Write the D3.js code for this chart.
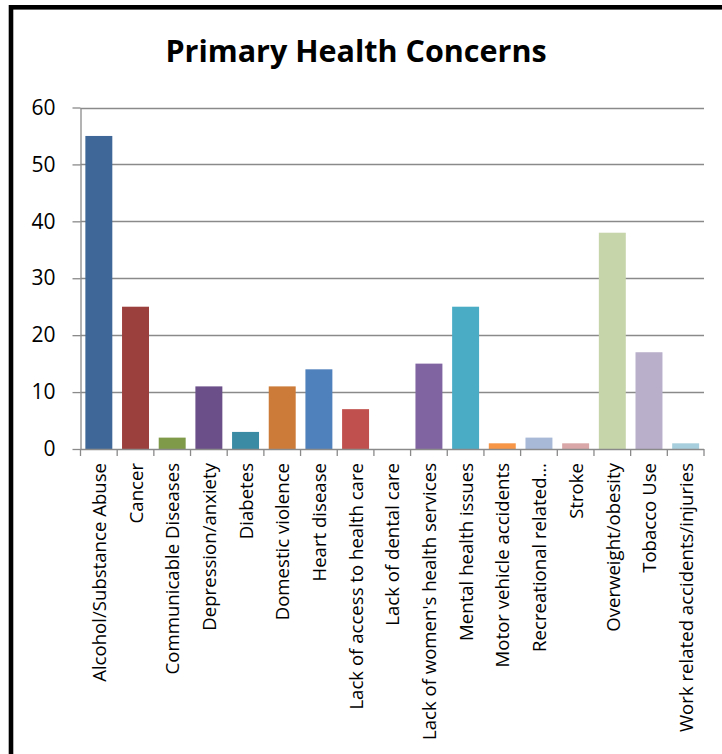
<!DOCTYPE html>
<html>
<head>
<meta charset="utf-8">
<script src="https://cdn.jsdelivr.net/npm/d3@7"></script>
<style>
  html, body { margin: 0; padding: 0; background: #fff; }
  svg { display: block; }
</style>
</head>
<body>
<svg id="chart" width="722" height="754"></svg>
<script>
const categories = [
  "Alcohol/Substance Abuse",
  "Cancer",
  "Communicable Diseases",
  "Depression/anxiety",
  "Diabetes",
  "Domestic violence",
  "Heart disease",
  "Lack of access to health care",
  "Lack of dental care",
  "Lack of women's health services",
  "Mental health issues",
  "Motor vehicle accidents",
  "Recreational related…",
  "Stroke",
  "Overweight/obesity",
  "Tobacco Use",
  "Work related accidents/injuries"
];
const values = [55, 25, 2, 11, 3, 11, 14, 7, 0, 15, 25, 1, 2, 1, 38, 17, 1];
const barColors = [
  "#3F6899", "#9C403E", "#7F9A48", "#6A4F88", "#3A8BA3", "#CD7B38",
  "#4F81BD", "#C0504D", "#9BBB59", "#8064A2", "#4BACC6", "#F79646",
  "#A8B9D8", "#D9A7A7", "#C6D6AA", "#B9AFCB", "#A7CEDC"
];
const yTicks = [0, 10, 20, 30, 40, 50, 60];
const title = "Primary Health Concerns";

const svg = d3.select("#chart");
const font = "'Open Sans', 'Noto Sans', sans-serif";
const gridColor = "#8A8A8A";

const plot = { left: 80.5, right: 704, top: 107.5, bottom: 449 };

const x = d3.scaleBand()
  .domain(categories)
  .range([plot.left, plot.right])
  .paddingInner(0.265)
  .paddingOuter(0.1325);

const y = d3.scaleLinear()
  .domain([0, 60])
  .range([plot.bottom, plot.top]);

// outer frame
svg.append("rect")
  .attr("x", 11).attr("y", 7.3)
  .attr("width", 900).attr("height", 900)
  .attr("fill", "none")
  .attr("stroke", "#000")
  .attr("stroke-width", 4.6);

// title
svg.append("text")
  .attr("x", 356).attr("y", 61.5)
  .attr("text-anchor", "middle")
  .attr("font-family", font)
  .attr("font-weight", "bold")
  .attr("font-size", 30.5)
  .attr("fill", "#000")
  .text(title);

// horizontal gridlines
svg.append("g")
  .selectAll("line")
  .data(yTicks.filter(d => d !== 0))
  .join("line")
  .attr("x1", plot.left).attr("x2", plot.right)
  .attr("y1", d => Math.round(y(d)) + 0.5)
  .attr("y2", d => Math.round(y(d)) + 0.5)
  .attr("stroke", gridColor)
  .attr("stroke-width", 1.3);

// bars
svg.append("g")
  .selectAll("rect")
  .data(categories.map((c, i) => ({ c, v: values[i], color: barColors[i] })))
  .join("rect")
  .attr("x", d => x(d.c))
  .attr("width", x.bandwidth())
  .attr("y", d => y(d.v))
  .attr("height", d => y(0) - y(d.v))
  .attr("fill", d => d.color);

// y axis
const yAxis = svg.append("g")
  .attr("transform", `translate(${plot.left},0)`)
  .call(d3.axisLeft(y).tickValues(yTicks).tickSize(8).tickPadding(17).tickSizeOuter(0));
yAxis.select(".domain").attr("stroke", gridColor).attr("stroke-width", 1.3);
yAxis.selectAll(".tick line").attr("stroke", gridColor).attr("stroke-width", 1.3);
yAxis.selectAll(".tick text")
  .attr("font-family", font)
  .attr("font-size", 21)
  .attr("fill", "#000");

// x axis: ticks at category boundaries
const boundaries = categories.map(c => x(c) - x.step() * x.paddingInner() / 2)
  .concat([plot.right]);
svg.append("line")
  .attr("x1", plot.left).attr("x2", plot.right)
  .attr("y1", plot.bottom + 0.5).attr("y2", plot.bottom + 0.5)
  .attr("stroke", gridColor).attr("stroke-width", 1.5);
svg.append("g")
  .selectAll("line")
  .data(boundaries)
  .join("line")
  .attr("x1", d => d).attr("x2", d => d)
  .attr("y1", plot.bottom).attr("y2", plot.bottom + 7)
  .attr("stroke", gridColor).attr("stroke-width", 1.3);

// category labels, rotated
svg.append("g")
  .selectAll("text")
  .data(categories)
  .join("text")
  .attr("transform", d => `translate(${x(d) + x.bandwidth() / 2 + 0.5},463) rotate(-90)`)
  .attr("text-anchor", "end")
  .attr("dy", "0.36em")
  .attr("font-family", font)
  .attr("font-size", 18.6)
  .attr("fill", "#000")
  .text(d => d);
</script>
</body>
</html>
